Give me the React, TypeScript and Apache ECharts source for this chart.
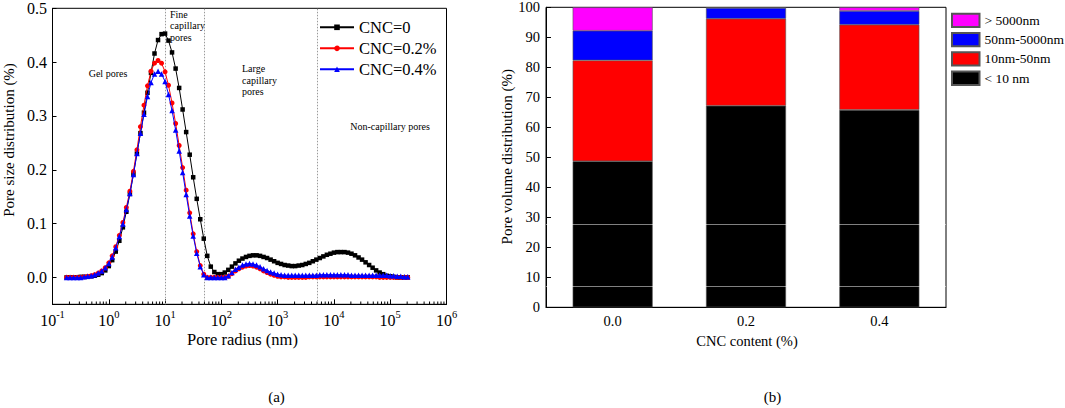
import React, { useEffect, useRef } from "react";
import * as echarts from "echarts";

const FONT = '"Liberation Serif", "Times New Roman", Times, serif';

// ---- Panel (a): pore size distribution ----
const poreRadius = [
  0.178, 0.205, 0.237, 0.274, 0.316, 0.365, 0.422, 0.487, 0.562, 0.649, 0.75, 0.866,
  1.0, 1.15, 1.33, 1.54, 1.78, 2.05, 2.37, 2.74, 3.16, 3.65, 4.22, 4.87, 5.62, 6.49, 7.5, 8.66,
  10.0, 11.5, 13.3, 15.4, 17.8, 20.5, 23.7, 27.4, 31.6, 36.5, 42.2, 48.7, 56.2, 64.9, 75.0, 86.6,
  100, 115, 133, 154, 178, 205, 237, 274, 316, 365, 422, 487, 562, 649, 750, 866,
  1000, 1150, 1330, 1540, 1780, 2050, 2370, 2740, 3160, 3650, 4220, 4870, 5620, 6490, 7500, 8660,
  10000, 11500, 13300, 15400, 17800, 20500, 23700, 27400, 31600, 36500, 42200, 48700, 56200, 64900, 75000, 86600,
  100000, 115000, 133000, 154000, 178000, 205000,
];

const cnc0 = [
  0, 0, 0, 0, 0.001, 0.001, 0.001, 0.002, 0.003, 0.005, 0.008, 0.013,
  0.021, 0.032, 0.048, 0.068, 0.093, 0.122, 0.155, 0.192, 0.23, 0.268, 0.306, 0.343,
  0.38, 0.416, 0.441, 0.452, 0.453, 0.44, 0.418, 0.388, 0.352, 0.312, 0.27, 0.228,
  0.186, 0.146, 0.108, 0.072, 0.04, 0.02, 0.01, 0.006, 0.006, 0.009, 0.014, 0.02,
  0.026, 0.031, 0.035, 0.038, 0.04, 0.041, 0.041, 0.04, 0.038, 0.036, 0.033, 0.03,
  0.027, 0.025, 0.023, 0.022, 0.021, 0.021, 0.022, 0.023, 0.025, 0.027, 0.03, 0.033,
  0.036, 0.039, 0.042, 0.044, 0.046, 0.047, 0.047, 0.047, 0.046, 0.044, 0.041, 0.037,
  0.033, 0.028, 0.023, 0.018, 0.013, 0.009, 0.006, 0.003, 0.002, 0.001, 0, 0, 0, 0,
];

const cnc02 = [
  0, 0, 0, 0, 0, 0.001, 0.002, 0.003, 0.005, 0.008, 0.012, 0.018,
  0.027, 0.04, 0.057, 0.078, 0.102, 0.13, 0.16, 0.197, 0.237, 0.28, 0.32, 0.356,
  0.383, 0.398, 0.403, 0.398, 0.382, 0.357, 0.324, 0.286, 0.245, 0.204, 0.162, 0.12,
  0.081, 0.048, 0.022, 0.006, 0, 0, 0, 0, 0, 0, 0.002, 0.007,
  0.012, 0.016, 0.019, 0.021, 0.022, 0.021, 0.019, 0.016, 0.012, 0.009, 0.006, 0.004,
  0.002, 0.001, 0.001, 0, 0, 0, 0, 0, 0, 0.001, 0.001, 0.001,
  0.001, 0.001, 0.001, 0.001, 0.001, 0.001, 0.001, 0.001, 0.001, 0.001, 0.001, 0.001,
  0.001, 0.001, 0.001, 0.001, 0.001, 0, 0, 0, 0, 0, 0, 0, 0, 0,
];

const cnc04 = [
  0, 0, 0, 0, 0, 0.001, 0.002, 0.003, 0.005, 0.008, 0.012, 0.018,
  0.026, 0.038, 0.055, 0.076, 0.099, 0.126, 0.156, 0.191, 0.23, 0.268, 0.303, 0.336,
  0.362, 0.378, 0.383, 0.378, 0.364, 0.34, 0.31, 0.274, 0.235, 0.195, 0.154, 0.114,
  0.077, 0.045, 0.02, 0.005, 0, 0, 0, 0, 0, 0, 0.003, 0.009,
  0.015, 0.019, 0.023, 0.025, 0.026, 0.025, 0.023, 0.02, 0.016, 0.013, 0.01, 0.008,
  0.006, 0.005, 0.004, 0.004, 0.004, 0.004, 0.004, 0.004, 0.004, 0.004, 0.004, 0.004,
  0.005, 0.005, 0.005, 0.005, 0.005, 0.005, 0.005, 0.005, 0.005, 0.004, 0.004, 0.004,
  0.004, 0.004, 0.004, 0.004, 0.004, 0.004, 0.004, 0.004, 0.003, 0.003, 0.002, 0.002, 0.001, 0.001,
];

const lineNames = ["CNC=0", "CNC=0.2%", "CNC=0.4%"];
const poreBoundaries = [10, 50, 5000];
const decadeStarts = [0.1, 1, 10, 100, 1000, 10000, 100000];
const minorMultiples = [2, 3, 4, 5, 6, 7, 8, 9];

// ---- Panel (b): pore volume distribution ----
const cncContent = ["0.0", "0.2", "0.4"];
const below10 = [48.7, 67.2, 65.8];
const from10to50 = [33.6, 29.0, 28.4];
const from50to5000 = [9.9, 3.6, 4.6];
const above5000 = [7.8, 0.2, 1.2];
const barNames = ["< 10 nm", "10nm-50nm", "50nm-5000nm", "> 5000nm"];
const barColors = ["#000000", "#ff0000", "#0000ff", "#ff00ff"];
const stripeValues = [27.8, 6.9];

function buildOption() {
  const pairs = (ys: number[]) => poreRadius.map((r, i) => [r, ys[i]]);
  const minorTicks: number[][] = [];
  decadeStarts.forEach((d) => minorMultiples.forEach((m) => minorTicks.push([d * m, -0.05])));

  const lineSeries = [
    { name: lineNames[0], data: pairs(cnc0), color: "#000000", symbol: "rect", size: 4.5 },
    { name: lineNames[1], data: pairs(cnc02), color: "#ff0000", symbol: "circle", size: 5 },
    { name: lineNames[2], data: pairs(cnc04), color: "#0000ff", symbol: "triangle", size: 5.5 },
  ].map((s, idx) => ({
    type: "line",
    name: s.name,
    xAxisIndex: 0,
    yAxisIndex: 0,
    data: s.data,
    symbol: s.symbol,
    symbolSize: s.size,
    showSymbol: true,
    showAllSymbol: true,
    lineStyle: { color: s.color, width: 1 },
    itemStyle: { color: s.color },
    z: 3 + idx,
    ...(idx === 0
      ? {
          markLine: {
            silent: true,
            symbol: ["none", "none"],
            label: { show: false },
            z: 1,
            lineStyle: { color: "#9a9a9a", type: [1.5, 1.5], width: 1 },
            data: poreBoundaries.map((v) => ({ xAxis: v })),
          },
        }
      : {}),
  }));

  const barValues = [below10, from10to50, from50to5000, above5000];
  const barSeries = barNames.map((name, idx) => ({
    type: "bar",
    name,
    stack: "volume",
    xAxisIndex: 1,
    yAxisIndex: 1,
    barWidth: 80,
    data: barValues[idx],
    itemStyle: { color: barColors[idx], borderColor: "#555", borderWidth: 0.6 },
    ...(idx === 0
      ? {
          markLine: {
            silent: true,
            symbol: ["none", "none"],
            label: { show: false },
            lineStyle: { color: "rgba(255,255,255,0.5)", type: "solid", width: 1 },
            data: stripeValues.map((v) => ({ yAxis: v })),
          },
        }
      : {}),
  }));

  const txt = (
    text: string,
    x: number,
    y: number,
    size: number,
    align = "center",
    rotation = 0,
    lineHeight?: number,
    vAlign = "middle"
  ) => ({
    type: "text",
    x,
    y,
    rotation,
    silent: true,
    z: 50,
    style: {
      text,
      fontSize: size,
      fontFamily: FONT,
      fill: "#000",
      textAlign: align,
      textVerticalAlign: vAlign,
      ...(lineHeight ? { lineHeight } : {}),
    },
  });

  return {
    animation: false,
    backgroundColor: "#ffffff",
    textStyle: { fontFamily: FONT, color: "#000" },
    grid: [
      { left: 52.5, top: 8.3, width: 394, height: 296, show: true, borderColor: "#000", borderWidth: 1, backgroundColor: "transparent", containLabel: false, outerBoundsMode: "none" },
      { left: 546, top: 7.3, width: 400, height: 300, show: true, borderColor: "#000", borderWidth: 1, backgroundColor: "transparent", containLabel: false, outerBoundsMode: "none" },
    ],
    xAxis: [
      {
        type: "log",
        gridIndex: 0,
        logBase: 10,
        min: 0.1,
        max: 1000000,
        splitNumber: 7,
        axisLine: { show: true, onZero: false, lineStyle: { color: "#000", width: 1 } },
        axisTick: { show: true, inside: true, length: 5, lineStyle: { color: "#000" } },
        minorTick: { show: false },
        splitLine: { show: false },
        axisLabel: {
          margin: 7,
          color: "#000",
          formatter: (v: number) => `{b|10}{s|${Math.round(Math.log10(v))}}`,
          rich: {
            b: { fontSize: 16, fontFamily: FONT, color: "#000", lineHeight: 18 },
            s: { fontSize: 10.5, fontFamily: FONT, color: "#000", lineHeight: 10, padding: [0, 0, 12, 0] },
          },
        },
      },
      {
        type: "category",
        gridIndex: 1,
        data: cncContent,
        axisLine: { show: true, onZero: false, lineStyle: { color: "#000", width: 1 } },
        axisTick: { show: false },
        splitLine: { show: false },
        axisLabel: { margin: 6.5, fontSize: 14.5, fontFamily: FONT, color: "#000" },
      },
    ],
    yAxis: [
      {
        type: "value",
        gridIndex: 0,
        min: -0.05,
        max: 0.5,
        splitNumber: 5,
        axisLine: { show: true, onZero: false, lineStyle: { color: "#000", width: 1 } },
        axisTick: { show: true, inside: true, length: 4, lineStyle: { color: "#000" } },
        splitLine: { show: false },
        axisLabel: {
          margin: 5.5,
          fontSize: 16,
          fontFamily: FONT,
          color: "#000",
          formatter: (v: number) => (v < -0.001 ? "" : v.toFixed(1)),
        },
      },
      {
        type: "value",
        gridIndex: 1,
        min: 0,
        max: 100,
        interval: 10,
        axisLine: { show: true, onZero: false, lineStyle: { color: "#000", width: 1 } },
        axisTick: { show: true, inside: true, length: 5, lineStyle: { color: "#000" } },
        splitLine: { show: false },
        axisLabel: { margin: 6, fontSize: 14.5, fontFamily: FONT, color: "#000" },
      },
    ],
    legend: [
      {
        data: lineNames,
        orient: "vertical",
        left: 319,
        top: 18.8,
        padding: 0,
        itemWidth: 34,
        itemHeight: 7,
        itemGap: 4,
        selectedMode: false,
        textStyle: { fontSize: 16.5, fontFamily: FONT, color: "#000", lineHeight: 17 },
      },
      {
        data: [barNames[3], barNames[2], barNames[1], barNames[0]],
        orient: "vertical",
        left: 951,
        top: 12.7,
        padding: 0,
        icon: "rect",
        itemWidth: 27.5,
        itemHeight: 13.3,
        itemGap: 4,
        selectedMode: false,
        textStyle: { fontSize: 13.5, fontFamily: FONT, color: "#000", lineHeight: 13.3 },
      },
    ],
    graphic: [
      txt("Pore size distribution (%)", 8.6, 140, 15, "center", Math.PI / 2),
      txt("Pore radius (nm)", 242.5, 339.3, 16.5),
      txt("Pore volume distribution (%)", 506.5, 156.7, 15, "center", Math.PI / 2),
      txt("CNC content (%)", 747, 340.7, 14.5),
      txt("(a)", 276.5, 396.7, 15),
      txt("(b)", 772.4, 396.7, 15),
      txt("Gel pores", 108, 73, 10),
      txt("Fine\ncapillary\npores", 170, 8.3, 10, "left", 0, 11.5, "top"),
      txt("Large\ncapillary\npores", 242, 62.4, 10, "left", 0, 11.8, "top"),
      txt("Non-capillary pores", 350.2, 126.7, 10, "left"),
    ],
    series: [
      ...lineSeries,
      {
        type: "custom",
        xAxisIndex: 0,
        yAxisIndex: 0,
        silent: true,
        z: 10,
        data: minorTicks,
        encode: { x: 0, y: 1 },
        renderItem: (_params: any, api: any) => {
          const p = api.coord([api.value(0), api.value(1)]);
          return {
            type: "line",
            shape: { x1: p[0], y1: p[1], x2: p[0], y2: p[1] - 2.8 },
            style: { stroke: "#000", lineWidth: 1 },
          };
        },
      },
      ...barSeries,
    ],
  };
}

export default function App() {
  const ref = useRef<HTMLDivElement>(null);
  useEffect(() => {
    if (!ref.current) return;
    const chart = echarts.init(ref.current, null, { renderer: "svg" });
    chart.setOption(buildOption() as any);
    return () => chart.dispose();
  }, []);
  return (
    <div
      ref={ref}
      style={{ position: "absolute", left: 0, top: 0, width: 1065, height: 408, background: "#fff" }}
    />
  );
}
